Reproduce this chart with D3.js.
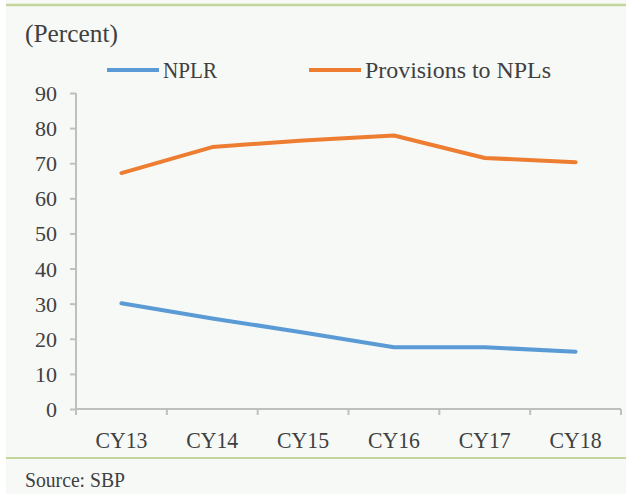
<!DOCTYPE html>
<html>
<head>
<meta charset="utf-8">
<script src="https://cdn.jsdelivr.net/npm/d3@7"></script>
<style>
  body { margin: 0; background: #fff; }
</style>
</head>
<body>
<svg id="chart" width="626" height="494"></svg>
<script>
// chart data
var categories = ["CY13", "CY14", "CY15", "CY16", "CY17", "CY18"];
var nplr = [30.1, 25.8, 21.8, 17.6, 17.6, 16.3];
var provisions = [67.2, 74.6, 76.5, 77.9, 71.5, 70.3];
var yTicks = [0, 10, 20, 30, 40, 50, 60, 70, 80, 90];
var seriesNames = ["NPLR", "Provisions to NPLs"];
var seriesColors = ["#5b9bd5", "#ed7d31"];

var FONT = "Liberation Serif";
var INK = "#404040";

var svg = d3.select("#chart");

// the reference uses a narrow serif face, so widths get squeezed with textLength
function label(sel, size, len) {
  sel.style("font-family", FONT).style("font-size", size + "px").attr("fill", INK);
  if (len) sel.attr("textLength", len).attr("lengthAdjust", "spacingAndGlyphs");
  return sel;
}

// panel background and green rules
svg.append("rect")
  .attr("x", 6).attr("y", 0)
  .attr("width", 620).attr("height", 494)
  .attr("fill", "#f7f9f7");
svg.append("line")
  .attr("x1", 6).attr("x2", 626).attr("y1", 5).attr("y2", 5)
  .attr("stroke", "#c3d69b").attr("stroke-width", 2.5);
svg.append("line")
  .attr("x1", 6).attr("x2", 626).attr("y1", 458).attr("y2", 458)
  .attr("stroke", "#c3d69b").attr("stroke-width", 2);

label(svg.append("text").attr("x", 25).attr("y", 42).text("(Percent)"), 25, 93);
label(svg.append("text").attr("x", 25).attr("y", 487).text("Source: SBP"), 20, 100);

var x = d3.scaleBand().domain(categories).range([76, 621]);
var y = d3.scaleLinear().domain([0, 90]).range([409, 93]);

// axes
var yAxis = svg.append("g")
  .attr("transform", "translate(76,0)")
  .call(d3.axisLeft(y).tickValues(yTicks).tickSize(6).tickPadding(13));
var xAxis = svg.append("g")
  .attr("transform", "translate(0,409)")
  .call(d3.axisBottom(x).tickSize(0).tickPadding(0));

// x ticks sit on the band edges
var edges = categories.map(function(c) { return x(c); }).concat([x.range()[1]]);
xAxis.selectAll("line.edge")
  .data(edges)
  .enter()
  .append("line")
  .attr("class", "edge")
  .attr("x1", function(d) { return d; })
  .attr("x2", function(d) { return d; })
  .attr("y1", 0).attr("y2", 6);

[yAxis, xAxis].forEach(function(a) {
  a.select(".domain").attr("stroke", "#bfbfbf").attr("stroke-width", 2)
    .attr("d", a === yAxis ? "M0,93V409" : "M76,0H621");
  a.selectAll("line").attr("stroke", "#bfbfbf").attr("stroke-width", 2);
});
label(yAxis.selectAll("text"), 22).attr("dy", "0.34em");
label(xAxis.selectAll("text"), 24, 52).attr("dy", null).attr("y", 39);

// lines
var line = d3.line()
  .x(function(d, i) { return x(categories[i]) + x.bandwidth() / 2; })
  .y(function(d) { return y(d); });

[nplr, provisions].forEach(function(s, k) {
  svg.append("path")
    .datum(s)
    .attr("fill", "none")
    .attr("stroke", seriesColors[k])
    .attr("stroke-width", 4)
    .attr("stroke-linecap", "round")
    .attr("stroke-linejoin", "round")
    .attr("d", line);
});

// legend
var legendX = [107, 309];
var legendLen = [54, 186];
seriesNames.forEach(function(n, k) {
  svg.append("line")
    .attr("x1", legendX[k]).attr("x2", legendX[k] + 52)
    .attr("y1", 70).attr("y2", 70)
    .attr("stroke", seriesColors[k]).attr("stroke-width", 4);
  label(svg.append("text")
    .attr("x", legendX[k] + 56).attr("y", 78)
    .text(n), 24, legendLen[k]);
});
</script>
</body>
</html>
